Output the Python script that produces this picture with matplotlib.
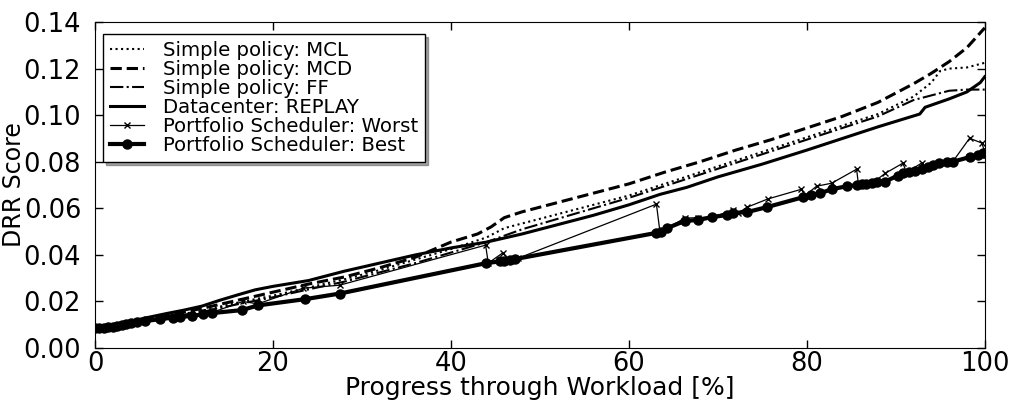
import matplotlib
matplotlib.use("Agg")
import matplotlib.pyplot as plt

# simple policies
mcl_x = [0, 4, 8, 12, 16, 20, 24, 28, 32, 36, 40, 44, 46, 48, 52, 56, 60, 64, 68, 72, 76, 80, 84, 88, 92, 94, 95, 96, 98, 100]
mcl_y = [0.0085, 0.011, 0.0135, 0.016, 0.0195, 0.0225, 0.026, 0.0295, 0.0335, 0.038, 0.0425, 0.0475, 0.0515, 0.0535,
         0.0575, 0.0615, 0.0655, 0.0705, 0.0755, 0.0805, 0.0855, 0.0905, 0.0955, 0.1005, 0.108, 0.114, 0.119, 0.120,
         0.1205, 0.1225]

mcd_x = [0, 4, 8, 12, 16, 20, 24, 28, 32, 36, 40, 43, 44.5, 46, 48, 52, 56, 60, 64, 68, 72, 76, 80, 84, 88, 92, 94, 96, 98, 100]
mcd_y = [0.0085, 0.0112, 0.014, 0.017, 0.0205, 0.024, 0.0275, 0.0305, 0.0345, 0.039, 0.0455, 0.049, 0.052, 0.056, 0.0585,
         0.0625, 0.0665, 0.0705, 0.0755, 0.080, 0.085, 0.0895, 0.0945, 0.0995, 0.1055, 0.1135, 0.118, 0.123, 0.129, 0.1375]

ff_x = [0, 4, 8, 12, 16, 20, 24, 28, 32, 36, 40, 44, 48, 52, 56, 60, 64, 68, 72, 76, 80, 84, 88, 92, 94, 96, 98, 100]
ff_y = [0.0085, 0.0108, 0.0132, 0.0155, 0.0188, 0.0218, 0.0252, 0.0285, 0.0325, 0.0365, 0.041, 0.0455, 0.051, 0.0555,
        0.060, 0.0645, 0.0695, 0.0745, 0.0795, 0.0845, 0.0895, 0.0945, 0.0995, 0.1065, 0.1085, 0.1105, 0.111, 0.111]

# datacenter replay
rep_x = [0, 2, 4, 6, 8, 10, 12, 14, 16, 18, 20, 24, 28, 32, 36, 40, 44, 48, 52, 56, 60, 63.5, 66.5, 70, 75, 80, 84, 88,
         92.7, 93.3, 96, 98, 99.5, 100]
rep_y = [0.0085, 0.0098, 0.0115, 0.0132, 0.0148, 0.0163, 0.018, 0.0205, 0.0228, 0.025, 0.0265, 0.029, 0.033, 0.0365,
         0.040, 0.043, 0.0455, 0.049, 0.053, 0.057, 0.0615, 0.066, 0.069, 0.0735, 0.079, 0.085, 0.090, 0.095,
         0.1005, 0.1034, 0.107, 0.110, 0.114, 0.1165]

# portfolio scheduler
worst_x = [0, 1, 2, 3, 4, 5.6, 7.3, 9.6, 12.1, 13.1, 16.6, 18.3, 23.4, 27.5, 43.9, 44.2, 45.8, 46.6, 47.5, 63.1, 63.5,
           64.3, 66.3, 67.8, 69.4, 71.7, 72.3, 73.3, 75.6, 79.4, 79.8, 81.1, 82.8, 85.6, 85.8, 87.5, 88.8, 90.8, 91.2,
           92.9, 93.4, 95.5, 96.4, 98.3, 99.7, 100]
worst_y = [0.0085, 0.0088, 0.0092, 0.0098, 0.0106, 0.0117, 0.0125, 0.0135, 0.0146, 0.0152, 0.020, 0.019, 0.0257,
           0.027, 0.0442, 0.0365, 0.0408, 0.0378, 0.0385, 0.0618, 0.0498, 0.0515, 0.0558, 0.056, 0.0563, 0.0592,
           0.058, 0.0605, 0.064, 0.0682, 0.0655, 0.0695, 0.0708, 0.0768, 0.0705, 0.0712, 0.075, 0.0794, 0.0755,
           0.0794, 0.0775, 0.0795, 0.080, 0.0901, 0.088, 0.084]

best_x = [0, 0.5, 1, 1.5, 2, 2.5, 3, 3.5, 4, 4.7, 5.6, 7.3, 8.8, 9.6, 10.9, 12.1, 13.1, 16.5, 18.3, 23.6, 27.5, 44.0,
          45.5, 46.0, 46.6, 47.2, 63.0, 63.6, 64.3, 66.3, 67.8, 69.4, 71.0, 71.7, 73.3, 75.5, 79.6, 80.5, 81.5, 82.8,
          84.5, 85.7, 86.2, 86.7, 87.3, 87.9, 88.8, 90.2, 90.8, 91.5, 92.2, 92.9, 93.6, 94.2, 94.9, 95.8, 96.4, 98.3,
          99.3, 99.8, 100]
best_y = [0.0085, 0.0087, 0.0088, 0.009, 0.0092, 0.0095, 0.0098, 0.0102, 0.0106, 0.0112, 0.0116, 0.0124, 0.0131,
          0.0134, 0.0138, 0.0145, 0.015, 0.0163, 0.0183, 0.021, 0.0234, 0.0365, 0.0372, 0.0375, 0.0378, 0.0382,
          0.0494, 0.0497, 0.0515, 0.0546, 0.055, 0.0563, 0.0571, 0.058, 0.0584, 0.0605, 0.0648, 0.0658, 0.0665,
          0.0682, 0.0695, 0.070, 0.0703, 0.0706, 0.0709, 0.0712, 0.0715, 0.074, 0.075, 0.0755, 0.076, 0.0768,
          0.0776, 0.0785, 0.0794, 0.0797, 0.080, 0.082, 0.083, 0.0837, 0.0838]

plt.rcParams["font.family"] = "DejaVu Sans"
plt.rcParams["xtick.direction"] = "in"
plt.rcParams["ytick.direction"] = "in"
plt.rcParams["xtick.top"] = True
plt.rcParams["ytick.right"] = True

fig = plt.figure(figsize=(10.11, 4.01), dpi=100)
ax = fig.add_axes([0.094, 0.132, 0.880, 0.813])

ax.plot(mcl_x, mcl_y, color="k", linestyle=":", lw=1.5, label="Simple policy: MCL")
ax.plot(mcd_x, mcd_y, color="k", linestyle="--", lw=2.2, label="Simple policy: MCD")
ax.plot(ff_x, ff_y, color="k", linestyle="-.", lw=1.5, label="Simple policy: FF")
ax.plot(rep_x, rep_y, color="k", linestyle="-", lw=2.2, label="Datacenter: REPLAY")
ax.plot(worst_x, worst_y, color="k", linestyle="-", lw=0.9, marker="x", ms=5, mew=1,
        label="Portfolio Scheduler: Worst")
ax.plot(best_x, best_y, color="k", linestyle="-", lw=3, marker="o", ms=6.5,
        label="Portfolio Scheduler: Best")

ax.set_xlim(0, 100)
ax.set_ylim(0, 0.14)
ax.set_xticks([0, 20, 40, 60, 80, 100])
ax.set_yticks([0.00, 0.02, 0.04, 0.06, 0.08, 0.10, 0.12, 0.14])
ax.set_yticklabels(["0.00", "0.02", "0.04", "0.06", "0.08", "0.10", "0.12", "0.14"])
ax.tick_params(labelsize=18.5, length=6, width=1)
ax.tick_params(axis="x", pad=2)
ax.tick_params(axis="y", pad=10)
ax.set_xlabel("Progress through Workload [%]", fontsize=18)
ax.set_ylabel("DRR Score", fontsize=17)
ax.xaxis.set_label_coords(0.5, -0.087)
ax.yaxis.set_label_coords(-0.078, 0.5)

leg = ax.legend(loc="upper left", fontsize=14.2, frameon=True, fancybox=False, shadow=True,
                handlelength=1.75, handletextpad=0.95, labelspacing=0.0, borderpad=0.35,
                borderaxespad=0.0, bbox_to_anchor=(0.009, 0.963))
leg.get_frame().set_edgecolor("k")
leg.get_frame().set_linewidth(1)

fig.savefig("out.png", dpi=100)
